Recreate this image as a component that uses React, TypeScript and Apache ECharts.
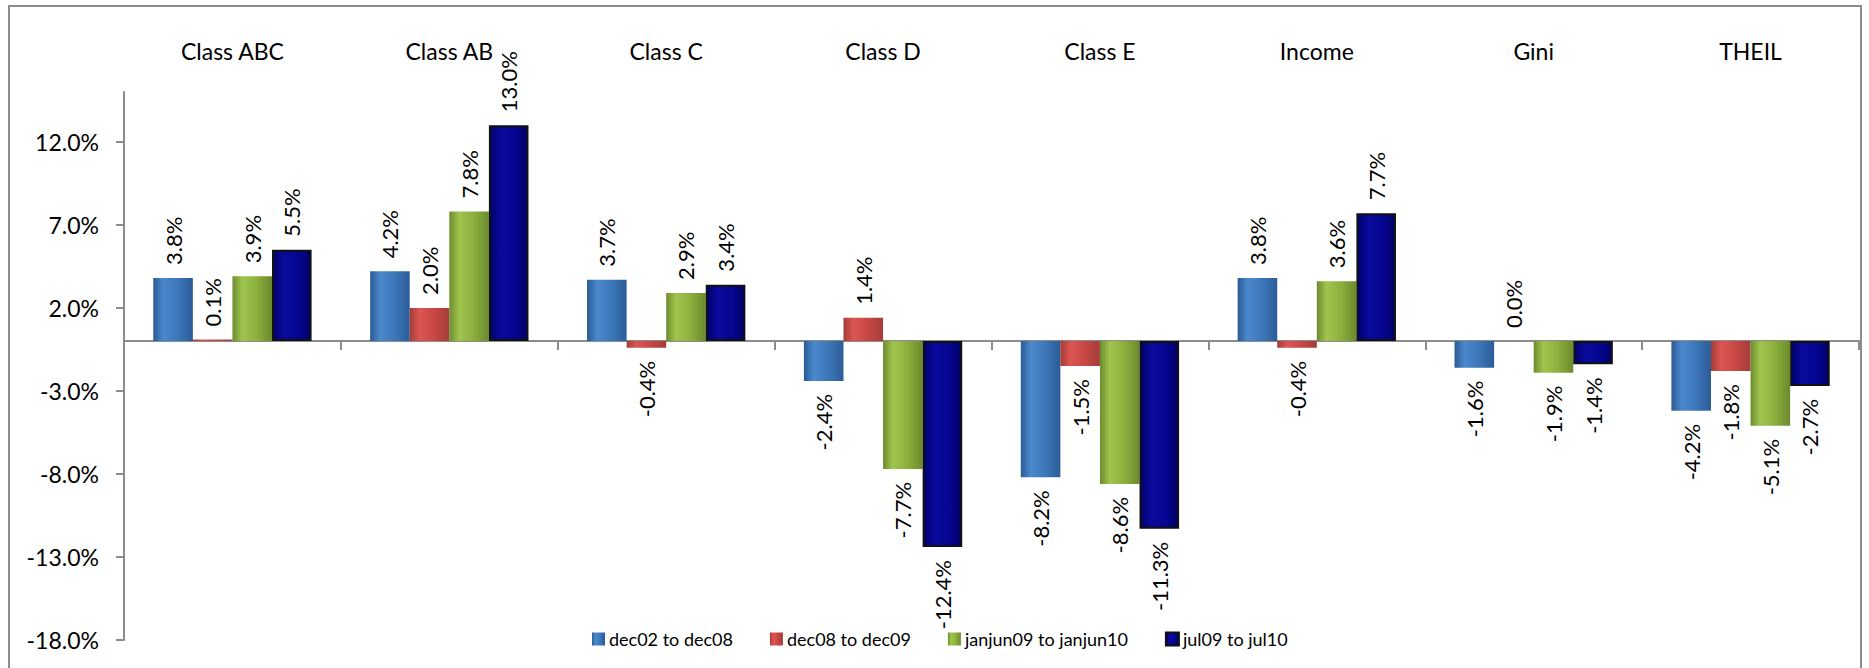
import React, { useEffect, useRef } from "react";
import * as echarts from "echarts";

const categories = ["Class ABC", "Class AB", "Class C", "Class D", "Class E", "Income", "Gini", "THEIL"];
const seriesNames = ["dec02 to dec08", "dec08 to dec09", "janjun09 to janjun10", "jul09 to jul10"];
const dec02ToDec08 = [3.8, 4.2, 3.7, -2.4, -8.2, 3.8, -1.6, -4.2];
const dec08ToDec09 = [0.1, 2.0, -0.4, 1.4, -1.5, -0.4, 0.0, -1.8];
const janjun09ToJanjun10 = [3.9, 7.8, 2.9, -7.7, -8.6, 3.6, -1.9, -5.1];
const jul09ToJul10 = [5.5, 13.0, 3.4, -12.4, -11.3, 7.7, -1.4, -2.7];
const yTicks = [-18, -13, -8, -3, 2, 7, 12];

const FONT = "Lato, 'Noto Sans', sans-serif";

const grad = (stops: [number, string][]) =>
  new echarts.graphic.LinearGradient(0, 0, 1, 0, stops.map(([offset, color]) => ({ offset, color })));

const styles = [
  { color: grad([[0, "#2A5A94"], [0.25, "#4A88CC"], [0.6, "#3D78BA"], [1, "#2C5C98"]]) },
  { color: grad([[0, "#A23C38"], [0.25, "#DC5652"], [0.6, "#C94844"], [1, "#A33D3A"]]) },
  { color: grad([[0, "#6C8C2E"], [0.25, "#A0C54E"], [0.6, "#8DB13E"], [1, "#6A8A2C"]]) },
  { color: grad([[0, "#00006A"], [0.3, "#0A0A9E"], [0.7, "#050590"], [1, "#000066"]]), borderColor: "#111", borderWidth: 2 },
];

const allSeries = [dec02ToDec08, dec08ToDec09, janjun09ToJanjun10, jul09ToJul10];

export default function App() {
  const ref = useRef<HTMLDivElement>(null);
  useEffect(() => {
    if (!ref.current) return;
    const chart = echarts.init(ref.current, null, { renderer: "svg" });
    chart.setOption({
      animation: false,
      backgroundColor: "#fff",
      textStyle: { fontFamily: FONT },
      graphic: [
        {
          type: "rect",
          shape: { x: 9, y: 6, width: 1852, height: 700 },
          style: { fill: "none", stroke: "#8c8c8c", lineWidth: 2 },
          silent: true,
          z: -1,
        },
      ],
      legend: {
        left: 587,
        top: 625,
        itemWidth: 13,
        itemHeight: 13,
        itemGap: 37,
        icon: "rect",
        data: seriesNames,
        textStyle: { fontSize: 18, color: "#000", fontFamily: FONT, padding: [0, 0, 0, -1] },
      },
      grid: { left: 124, right: 10, top: 92, bottom: 28, containLabel: false },
      xAxis: [
        {
          type: "category",
          data: categories,
          position: "bottom",
          axisLine: { onZero: true, lineStyle: { color: "#8c8c8c", width: 2 } },
          axisTick: { show: true, length: 9, lineStyle: { color: "#8c8c8c", width: 2 } },
          axisLabel: { show: false },
          splitLine: { show: false },
        },
        {
          type: "category",
          data: categories,
          position: "top",
          axisLine: { show: false },
          axisTick: { show: false },
          axisLabel: { show: true, fontSize: 23, color: "#000", margin: 30, fontFamily: FONT },
          splitLine: { show: false },
        },
      ],
      yAxis: {
        type: "value",
        min: -18,
        max: 15,
        interval: 5,
        axisLine: { show: true, lineStyle: { color: "#8c8c8c", width: 2 } },
        axisTick: { show: true, length: 8, lineStyle: { color: "#8c8c8c", width: 2 }, customValues: yTicks },
        axisLabel: {
          show: true,
          fontSize: 23,
          color: "#000",
          margin: 25,
          fontFamily: FONT,
          customValues: yTicks,
          formatter: (v: number) => v.toFixed(1) + "%",
        },
        splitLine: { show: false },
      },
      series: allSeries.map((vals, i) => ({
        name: seriesNames[i],
        type: "bar",
        barGap: "0%",
        barCategoryGap: "27%",
        itemStyle: styles[i],
        label: {
          show: true,
          rotate: 90,
          fontSize: 22,
          color: "#000",
          fontFamily: FONT,
          distance: 13,
          verticalAlign: "middle",
          formatter: (p: any) => Number(p.value).toFixed(1) + "%",
        },
        data: vals.map((v) => ({
          value: v,
          label: { position: v >= 0 ? "top" : "bottom", align: v >= 0 ? "left" : "right" },
        })),
      })),
    });
    return () => chart.dispose();
  }, []);
  return (
    <div
      ref={ref}
      style={{ position: "fixed", left: 0, top: 0, width: 1869, height: 668, background: "#fff" }}
    />
  );
}
